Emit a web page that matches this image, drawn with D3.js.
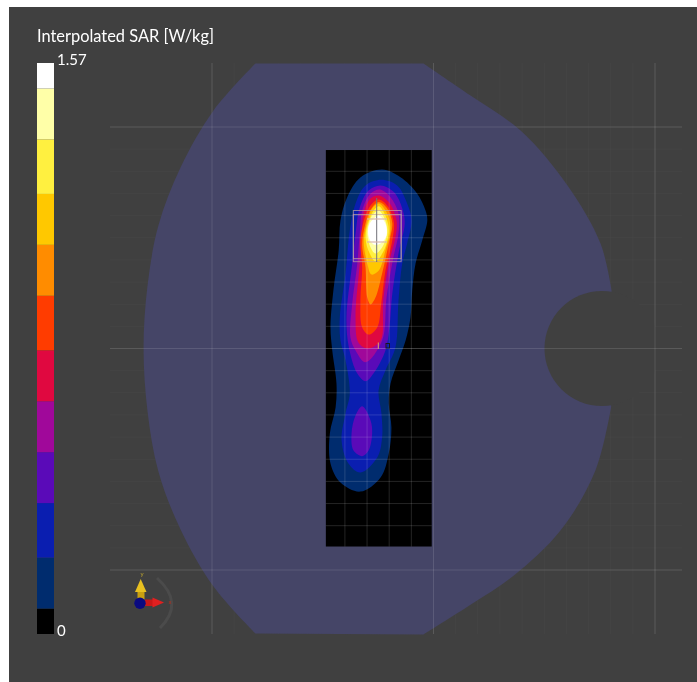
<!DOCTYPE html>
<html>
<head>
<meta charset="utf-8"/>
<script src="https://d3js.org/d3.v7.min.js"></script>
<style type="text/css">
html, body { margin: 0; background: #fff; overflow: hidden; }
svg { display: block; filter: blur(0.4px); }
text { font-family: Lato, "Open Sans", sans-serif; }
</style>
</head>
<body>
<div id="v"></div>
<script type="text/javascript">
// SAR colour bar
var sarMax = 1.57;
var bandEdges = [0.07, 0.21, 0.36, 0.5, 0.64, 0.78, 0.93, 1.07, 1.21, 1.36, 1.5];
var bandColors = ["#000000", "#002c6e", "#0a1eb0", "#5a0ab8", "#a0089a", "#e00840", "#ff3c00", "#ff8c00", "#ffc800", "#fff040", "#ffffa8", "#ffffff"];
var barTicks = [0, 1.57];

// contour outlines, [x, y] in mm from the phantom centre
var contourNavy = [[-23.2,80.8],[-14.9,77.3],[-7.4,70],[-3.6,62.3],[-2.8,57.8],[-5.1,48.8],[-8.1,38.4],[-9.6,26.2],[-10.4,14],[-12.6,3.6],[-15.8,-5.4],[-19.4,-15.8],[-20.2,-24.8],[-19,-35.7],[-20.2,-47.4],[-23.9,-58.2],[-33,-64.6],[-42,-60.5],[-46.5,-51.9],[-46.8,-38.4],[-44.2,-26.6],[-43.8,-15.8],[-45.7,-0.9],[-46.5,9.5],[-45.2,26.2],[-42.8,44.2],[-42,57.8],[-39,68.2],[-33,77.2]];
var contourBlue = [[-23.6,76.2],[-16.4,73.6],[-11.9,65.5],[-9.9,57.8],[-11.9,47.4],[-14.1,38.4],[-15.8,21.7],[-17.2,0.5],[-21.7,-9.9],[-24.8,-19],[-23.5,-29.3],[-23.2,-40.2],[-25.4,-49.2],[-33,-56],[-38.4,-51.9],[-41.5,-41.5],[-39.7,-29.3],[-37.8,-20.3],[-39.7,-5.4],[-42,3.6],[-42.3,14],[-39.7,33.9],[-37.8,53.3],[-35.2,65.5],[-30.7,73.6]];
var contourPurple = [[-23.9,73.6],[-17.9,70.6],[-14.1,63.2],[-13,56.4],[-15.8,42.9],[-18.6,24.8],[-19.9,9.5],[-21.7,-0.9],[-27.1,-11.3],[-30.7,-14.8],[-34.4,-11.3],[-38.2,0.5],[-39.3,14],[-36.7,38.4],[-35.2,51.9],[-33.3,63.7],[-29.3,71.3]];
var contourPurpleLow = [[-32.2,-26.1],[-28.4,-32.5],[-27.7,-38.4],[-29.3,-46.1],[-32.2,-48.6],[-36.1,-46.1],[-37,-38.4],[-35.2,-30.3]];
var contourMagenta = [[-24.2,71.8],[-19.4,68.3],[-15.8,61],[-15.8,51.9],[-18.1,41.1],[-21.2,23],[-23.2,3.6],[-30.7,-6.2],[-35.2,-0.9],[-37.5,5],[-36.7,20.3],[-34.4,38.4],[-33.3,51.9],[-32.2,62.3],[-28.4,70]];
var contourCrimson = [[-24.7,69.1],[-20.2,66.1],[-16.7,57.8],[-17.2,50.1],[-20.2,38.4],[-22.7,21.7],[-23.9,3.6],[-29.7,0],[-33.9,2.7],[-35.2,14],[-33.7,33.9],[-32.2,48.8],[-31.6,61],[-28.4,67.7]];
var contourRed = [[-24.7,67.3],[-20.9,64.6],[-17.9,57],[-18.6,48.8],[-21.7,35.2],[-23.6,20.3],[-25.4,9.5],[-29.2,6.3],[-32.2,9.5],[-33,21.7],[-32.2,36.6],[-33,48.8],[-30.7,60],[-27.7,65.5]];
var contourOrange = [[-24.7,66.1],[-20.9,63.2],[-18.6,56.4],[-20.2,47.4],[-23.2,33.9],[-26.2,23],[-28.4,19.9],[-29.9,23],[-30.7,36.6],[-32.2,47.4],[-29.9,59.1],[-27.7,63.7]];
var contourGold = [[-24.7,65.5],[-21.2,61.5],[-19.4,54.6],[-21.7,44.2],[-24.7,35.2],[-28,33.4],[-29.9,38.4],[-31.5,48.8],[-29.7,57.8],[-27.7,63.2]];
var contourYellow = [[-24.7,64.2],[-21.7,60],[-20.2,53.3],[-22.4,44.2],[-26.2,39.4],[-28.8,42.9],[-30.7,50.1],[-29.2,57.8],[-27,62.3]];
var contourPale = [[-24.7,62.3],[-22.1,58.7],[-20.9,52.5],[-23.2,45.6],[-26.2,42.9],[-28.4,45.6],[-29.9,51.9],[-28.8,57.8],[-27,61]];
var contourWhite = [[-24.7,60],[-21.7,56.4],[-21.2,51],[-23.9,47.4],[-27,47],[-29.2,50.1],[-29.2,55.5],[-27,58.7]];
var contourLevels = [0.07, 0.21, 0.36, 0.36, 0.5, 0.64, 0.78, 0.93, 1.07, 1.21, 1.36, 1.5];
var contourLines = [contourNavy, contourBlue, contourPurple, contourPurpleLow, contourMagenta, contourCrimson, contourRed, contourOrange, contourGold, contourYellow, contourPale, contourWhite];

// phantom outline, mm
var phantomRight = [[-4.5,128.7],[16.7,114.2],[39.3,98.4],[60.5,73.6],[75.4,47.4],[80.4,26.2]];
var phantomLower = [[80.2,-26.5],[73.1,-55.1],[57.3,-82.2],[36.3,-102.5],[16.7,-115.7],[-4.5,-129.1]];
var phantomLeft = [[-80.4,-128.7],[-99.3,-107.5],[-114.2,-81.7],[-124.2,-55.5],[-129.1,-28.4],[-130.9,0],[-129.1,28.4],[-124.2,55.5],[-114.2,81.7],[-99.3,107.5],[-80.4,128.7]];
var notchCentre = [76.1, 0];
var notchRadius = 26;

// scan area, measurement boxes, grid, mm
var scanArea = [[-48.6, 89.6], [-0.8, -89.4]];
var zoomBoxes = [[[-36.2, 62.3], [-14.6, 39.2]], [[-36.2, 60.5], [-14.6, 40.6]]];
var gridMajorX = [-100, 0, 100];
var gridMajorY = [100, 0, -100];
var gridMinor = d3.range(-100, 101, 10);
var scanGridX = [-40, -30, -20, -10];
var scanGridY = [80, 70, 60, 50, 40, 30, 20, 10, 0, -10, -20, -30, -40, -50, -60, -70, -80];

var width = 697, height = 682;
var x = d3.scaleLinear().domain([-100, 100]).range([212, 655]);
var y = d3.scaleLinear().domain([-100, 100]).range([570, 127]);
var barY = d3.scaleLinear().domain([0, sarMax]).range([634, 63]);
var bandColor = d3.scaleThreshold().domain(bandEdges).range(bandColors);

var svg = d3.select("#v").append("svg").attr("width", width).attr("height", height);
svg.append("rect").attr("x", 9).attr("y", 7).attr("width", width - 9).attr("height", height - 7).attr("fill", "#404040");

// faint background grid
var g = svg.append("g");
g.selectAll(".minorV").data(gridMinor).enter().append("line")
  .attr("x1", d => x(d)).attr("x2", d => x(d)).attr("y1", 63).attr("y2", 634)
  .attr("stroke", "#fff").attr("stroke-opacity", 0.025);
g.selectAll(".minorH").data(gridMinor).enter().append("line")
  .attr("y1", d => y(d)).attr("y2", d => y(d)).attr("x1", 110).attr("x2", 682)
  .attr("stroke", "#fff").attr("stroke-opacity", 0.025);

// phantom
var phantomLine = d3.line().x(d => x(d[0])).y(d => y(d[1])).curve(d3.curveCatmullRom);
var phantomPath = phantomLine(phantomRight) + phantomLine(phantomLower).replace("M", "L") + phantomLine(phantomLeft).replace("M", "L") + "Z";
g.append("path").attr("d", phantomPath).attr("fill", "#454567");
g.append("circle").attr("cx", x(notchCentre[0])).attr("cy", y(notchCentre[1]))
  .attr("r", x(notchRadius) - x(0)).attr("fill", "#404040");

// scan area and SAR contours
g.append("rect")
  .attr("x", x(scanArea[0][0])).attr("y", y(scanArea[0][1]))
  .attr("width", x(scanArea[1][0]) - x(scanArea[0][0]))
  .attr("height", y(scanArea[1][1]) - y(scanArea[0][1]))
  .attr("fill", "#000");
var contourLine = d3.line().x(d => x(d[0])).y(d => y(d[1])).curve(d3.curveCatmullRomClosed.alpha(0.5));
g.selectAll(".contour").data(contourLines).enter().append("path")
  .attr("class", "contour")
  .attr("d", d => contourLine(d))
  .attr("fill", (d, i) => bandColor(contourLevels[i]));

// grid on top
g.selectAll(".scanV").data(scanGridX).enter().append("line")
  .attr("x1", d => x(d)).attr("x2", d => x(d)).attr("y1", y(scanArea[0][1])).attr("y2", y(scanArea[1][1]))
  .attr("stroke", "#fff").attr("stroke-opacity", 0.14);
g.selectAll(".scanH").data(scanGridY).enter().append("line")
  .attr("y1", d => y(d)).attr("y2", d => y(d)).attr("x1", x(scanArea[0][0])).attr("x2", x(scanArea[1][0]))
  .attr("stroke", "#fff").attr("stroke-opacity", 0.14);
g.selectAll(".majorV").data(gridMajorX).enter().append("line")
  .attr("x1", d => x(d)).attr("x2", d => x(d)).attr("y1", 63).attr("y2", 634)
  .attr("stroke", "#fff").attr("stroke-opacity", 0.12);
g.selectAll(".majorH").data(gridMajorY).enter().append("line")
  .attr("y1", d => y(d)).attr("y2", d => y(d)).attr("x1", 110).attr("x2", 682)
  .attr("stroke", "#fff").attr("stroke-opacity", 0.12);

// measurement boxes
g.selectAll(".zoomBox").data(zoomBoxes).enter().append("rect")
  .attr("x", d => x(d[0][0])).attr("y", d => y(d[0][1]))
  .attr("width", d => x(d[1][0]) - x(d[0][0])).attr("height", d => y(d[1][1]) - y(d[0][1]))
  .attr("fill", "none").attr("stroke", "#c8a8a0").attr("stroke-opacity", 0.7);
g.append("line").attr("x1", 376.7).attr("x2", 376.7).attr("y1", 198).attr("y2", 262)
  .attr("stroke", "#707078").attr("stroke-width", 1);
[219, 242].forEach(function(py) {
  g.append("line").attr("x1", 367).attr("x2", 387).attr("y1", py).attr("y2", py)
    .attr("stroke", "#d8b8a8").attr("stroke-opacity", 0.6).attr("stroke-width", 2);
});

// centre markers
g.append("line").attr("x1", 378.3).attr("x2", 378.3).attr("y1", 342.5).attr("y2", 349)
  .attr("stroke", "#e0a860");
g.append("rect").attr("x", 386).attr("y", 343.5).attr("width", 3.5).attr("height", 4.5)
  .attr("fill", "none").attr("stroke", "#181820");

// colour bar
var barBands = bandColors.map(function(c, i) {
  return { color: c, lo: i ? bandEdges[i - 1] : 0, hi: i < bandEdges.length ? bandEdges[i] : sarMax };
});
svg.selectAll(".band").data(barBands).enter().append("rect")
  .attr("x", 37).attr("width", 17)
  .attr("y", d => barY(d.hi)).attr("height", d => barY(d.lo) - barY(d.hi))
  .attr("fill", d => d.color);

var barAxis = svg.append("g").attr("transform", "translate(54,0)")
  .call(d3.axisRight(barY).tickValues(barTicks).tickSize(0).tickPadding(3).tickFormat(d => d === 0 ? "0" : "1.57"));
barAxis.select(".domain").remove();
barAxis.selectAll("text").attr("fill", "#fff").style("font-size", "15px").style("font-family", "Lato, sans-serif")
  .attr("dy", d => d === 0 ? "0.1em" : "0.07em");

svg.append("text").attr("x", 37).attr("y", 42).attr("fill", "#fff")
  .style("font-size", "16.4px").text("Interpolated SAR [W/kg]");

// orientation triad
var triad = svg.append("g");
triad.append("path").attr("d", "M157,578 Q185,603 160,628").attr("fill", "none")
  .attr("stroke", "#4b4b4b").attr("stroke-width", 3);
triad.append("rect").attr("x", 137.5).attr("y", 590).attr("width", 7).attr("height", 12).attr("fill", "#c9a010");
triad.append("path").attr("d", "M140.7,579 L146.5,592 L135,592 Z").attr("fill", "#e8c020");
triad.append("rect").attr("x", 145).attr("y", 599.5).attr("width", 9).attr("height", 6.5).attr("fill", "#c81818");
triad.append("path").attr("d", "M164,602.5 L152.5,597.5 L152.5,607.5 Z").attr("fill", "#e02020");
triad.append("circle").attr("cx", 140).attr("cy", 603.3).attr("r", 5.7).attr("fill", "#0a0a80");
triad.append("text").attr("x", 142).attr("y", 576).attr("text-anchor", "middle")
  .attr("fill", "#b8a030").style("font-size", "6px").text("y");
triad.append("text").attr("x", 170).attr("y", 604).attr("text-anchor", "middle")
  .attr("fill", "#b03020").style("font-size", "6px").text("x");
</script>
</body>
</html>
